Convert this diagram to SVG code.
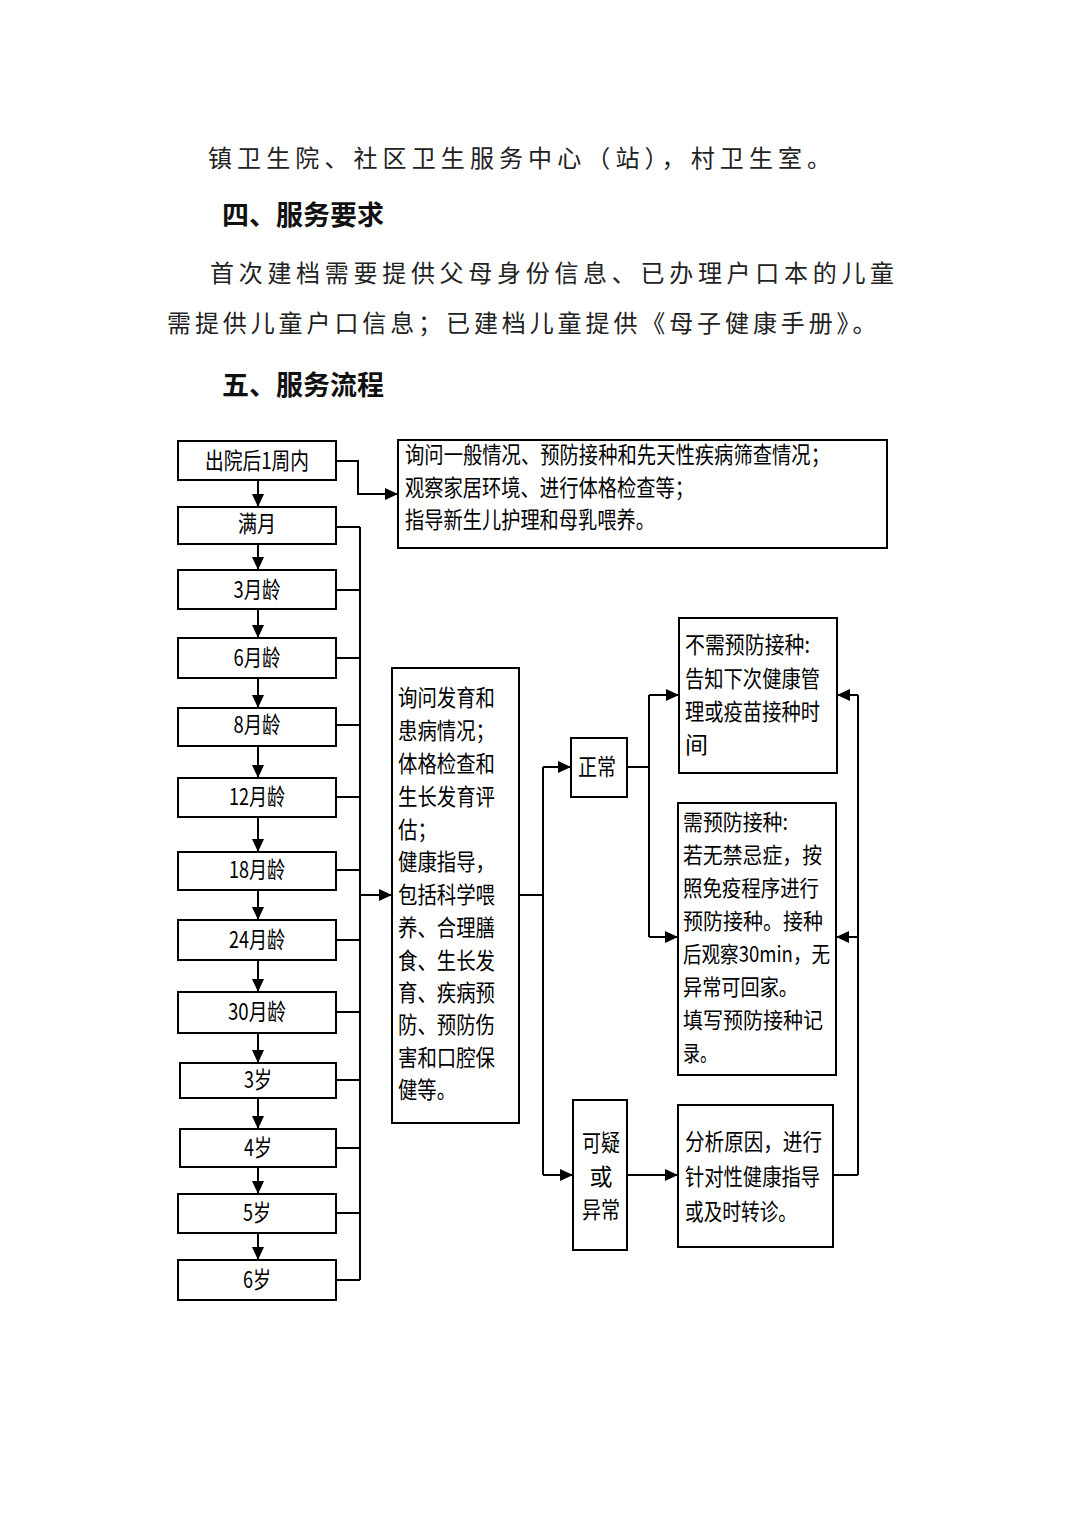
<svg xmlns="http://www.w3.org/2000/svg" width="1074" height="1520" viewBox="0 0 1074 1520">
<style>
.para{font-family:"Noto Sans CJK SC","Noto Sans",sans-serif;font-size:24px;fill:#222;}
.head{font-family:"Noto Sans CJK SC","Noto Sans",sans-serif;font-size:27px;font-weight:bold;fill:#111;}
.t{font-family:"Noto Sans CJK SC","Noto Sans",sans-serif;font-size:23px;fill:#000;}
.s{font-size:22px;}
.c{text-anchor:middle;}
.box{fill:#fff;stroke:#000;stroke-width:2;}
.ln{fill:none;stroke:#000;stroke-width:2;}
</style>
<defs>
<marker id="ah" markerWidth="13" markerHeight="12" refX="13" refY="6" orient="auto" markerUnits="userSpaceOnUse">
<path d="M0,0 L13,6 L0,12 z" fill="#000"/>
</marker>
</defs>
<rect width="1074" height="1520" fill="#fff"/>

<g id="paragraphs">
<text class="para" x="208" y="167" letter-spacing="5.1">镇卫生院、社区卫生服务中心（站），村卫生室。</text>
<text class="head" x="222" y="225">四、服务要求</text>
<text class="para" x="210" y="282" letter-spacing="4.7">首次建档需要提供父母身份信息、已办理户口本的儿童</text>
<text class="para" x="167" y="332" letter-spacing="3.9">需提供儿童户口信息；已建档儿童提供《母子健康手册》。</text>
<text class="head" x="222" y="395">五、服务流程</text>
</g>

<g id="connectors">
<line class="ln" x1="258" y1="480" x2="258" y2="507" marker-end="url(#ah)"/>
<line class="ln" x1="258" y1="544" x2="258" y2="570" marker-end="url(#ah)"/>
<line class="ln" x1="258" y1="609" x2="258" y2="638" marker-end="url(#ah)"/>
<line class="ln" x1="258" y1="678" x2="258" y2="708" marker-end="url(#ah)"/>
<line class="ln" x1="258" y1="746" x2="258" y2="778" marker-end="url(#ah)"/>
<line class="ln" x1="258" y1="817" x2="258" y2="852" marker-end="url(#ah)"/>
<line class="ln" x1="258" y1="890" x2="258" y2="920" marker-end="url(#ah)"/>
<line class="ln" x1="258" y1="960" x2="258" y2="992" marker-end="url(#ah)"/>
<line class="ln" x1="258" y1="1033" x2="258" y2="1063" marker-end="url(#ah)"/>
<line class="ln" x1="258" y1="1098" x2="258" y2="1129" marker-end="url(#ah)"/>
<line class="ln" x1="258" y1="1167" x2="258" y2="1194" marker-end="url(#ah)"/>
<line class="ln" x1="258" y1="1233" x2="258" y2="1260" marker-end="url(#ah)"/>
<polyline class="ln" points="336,461 358,461 358,494 398,494" marker-end="url(#ah)"/>
<line class="ln" x1="360" y1="527" x2="360" y2="1280"/>
<line class="ln" x1="336" y1="527" x2="360" y2="527"/>
<line class="ln" x1="336" y1="590" x2="360" y2="590"/>
<line class="ln" x1="336" y1="658" x2="360" y2="658"/>
<line class="ln" x1="336" y1="725" x2="360" y2="725"/>
<line class="ln" x1="336" y1="797" x2="360" y2="797"/>
<line class="ln" x1="336" y1="870" x2="360" y2="870"/>
<line class="ln" x1="336" y1="940" x2="360" y2="940"/>
<line class="ln" x1="336" y1="1012" x2="360" y2="1012"/>
<line class="ln" x1="336" y1="1080" x2="360" y2="1080"/>
<line class="ln" x1="336" y1="1148" x2="360" y2="1148"/>
<line class="ln" x1="336" y1="1213" x2="360" y2="1213"/>
<line class="ln" x1="336" y1="1280" x2="360" y2="1280"/>
<line class="ln" x1="360" y1="895" x2="392" y2="895" marker-end="url(#ah)"/>
<line class="ln" x1="519" y1="895" x2="543" y2="895"/>
<line class="ln" x1="543" y1="767" x2="543" y2="1175"/>
<line class="ln" x1="543" y1="767" x2="571" y2="767" marker-end="url(#ah)"/>
<line class="ln" x1="543" y1="1175" x2="573" y2="1175" marker-end="url(#ah)"/>
<line class="ln" x1="627" y1="767" x2="649" y2="767"/>
<line class="ln" x1="649" y1="695" x2="649" y2="937"/>
<line class="ln" x1="649" y1="695" x2="679" y2="695" marker-end="url(#ah)"/>
<line class="ln" x1="649" y1="937" x2="678" y2="937" marker-end="url(#ah)"/>
<line class="ln" x1="627" y1="1175" x2="678" y2="1175" marker-end="url(#ah)"/>
<line class="ln" x1="833" y1="1175" x2="858" y2="1175"/>
<line class="ln" x1="858" y1="695" x2="858" y2="1175"/>
<line class="ln" x1="858" y1="695" x2="837" y2="695" marker-end="url(#ah)"/>
<line class="ln" x1="858" y1="937" x2="836" y2="937" marker-end="url(#ah)"/>
</g>

<g id="n1"><rect class="box" x="178" y="441" width="158" height="39"/><text class="t c" x="257" y="469" textLength="104" lengthAdjust="spacingAndGlyphs">出院后1周内</text></g>
<g id="n2"><rect class="box" x="178" y="507" width="158" height="37"/><text class="t c" x="257" y="532" textLength="38" lengthAdjust="spacingAndGlyphs">满月</text></g>
<g id="n3"><rect class="box" x="178" y="570" width="158" height="39"/><text class="t c" x="257" y="598" textLength="47" lengthAdjust="spacingAndGlyphs">3月龄</text></g>
<g id="n4"><rect class="box" x="178" y="638" width="158" height="40"/><text class="t c" x="257" y="666" textLength="47" lengthAdjust="spacingAndGlyphs">6月龄</text></g>
<g id="n5"><rect class="box" x="178" y="708" width="158" height="38"/><text class="t c" x="257" y="733" textLength="47" lengthAdjust="spacingAndGlyphs">8月龄</text></g>
<g id="n6"><rect class="box" x="178" y="778" width="158" height="39"/><text class="t c" x="257" y="805" textLength="56" lengthAdjust="spacingAndGlyphs">12月龄</text></g>
<g id="n7"><rect class="box" x="178" y="852" width="158" height="38"/><text class="t c" x="257" y="878" textLength="56" lengthAdjust="spacingAndGlyphs">18月龄</text></g>
<g id="n8"><rect class="box" x="178" y="920" width="158" height="40"/><text class="t c" x="257" y="948" textLength="56" lengthAdjust="spacingAndGlyphs">24月龄</text></g>
<g id="n9"><rect class="box" x="178" y="992" width="158" height="41"/><text class="t c" x="257" y="1020" textLength="58" lengthAdjust="spacingAndGlyphs">30月龄</text></g>
<g id="n10"><rect class="box" x="180" y="1063" width="156" height="35"/><text class="t c" x="258" y="1088" textLength="28" lengthAdjust="spacingAndGlyphs">3岁</text></g>
<g id="n11"><rect class="box" x="180" y="1129" width="156" height="38"/><text class="t c" x="258" y="1156" textLength="28" lengthAdjust="spacingAndGlyphs">4岁</text></g>
<g id="n12"><rect class="box" x="178" y="1194" width="158" height="39"/><text class="t c" x="257" y="1221" textLength="28" lengthAdjust="spacingAndGlyphs">5岁</text></g>
<g id="n13"><rect class="box" x="178" y="1260" width="158" height="40"/><text class="t c" x="257" y="1288" textLength="28" lengthAdjust="spacingAndGlyphs">6岁</text></g>

<g id="first-visit">
<rect class="box" x="398" y="440" width="489" height="108"/>
<text class="t" x="405" y="463" textLength="425" lengthAdjust="spacingAndGlyphs">询问一般情况、预防接种和先天性疾病筛查情况；</text>
<text class="t" x="405" y="496" textLength="289" lengthAdjust="spacingAndGlyphs">观察家居环境、进行体格检查等；</text>
<text class="t" x="405" y="528" textLength="250" lengthAdjust="spacingAndGlyphs">指导新生儿护理和母乳喂养。</text>
</g>

<g id="follow-up">
<rect class="box" x="392" y="668" width="127" height="455"/>
<text class="t" x="398" y="706" textLength="97" lengthAdjust="spacingAndGlyphs">询问发育和</text>
<text class="t" x="398" y="739" textLength="97" lengthAdjust="spacingAndGlyphs">患病情况；</text>
<text class="t" x="398" y="772" textLength="97" lengthAdjust="spacingAndGlyphs">体格检查和</text>
<text class="t" x="398" y="805" textLength="97" lengthAdjust="spacingAndGlyphs">生长发育评</text>
<text class="t" x="398" y="838" textLength="39" lengthAdjust="spacingAndGlyphs">估；</text>
<text class="t" x="398" y="870" textLength="97" lengthAdjust="spacingAndGlyphs">健康指导，</text>
<text class="t" x="398" y="903" textLength="97" lengthAdjust="spacingAndGlyphs">包括科学喂</text>
<text class="t" x="398" y="936" textLength="97" lengthAdjust="spacingAndGlyphs">养、合理膳</text>
<text class="t" x="398" y="969" textLength="97" lengthAdjust="spacingAndGlyphs">食、生长发</text>
<text class="t" x="398" y="1001" textLength="97" lengthAdjust="spacingAndGlyphs">育、疾病预</text>
<text class="t" x="398" y="1033" textLength="97" lengthAdjust="spacingAndGlyphs">防、预防伤</text>
<text class="t" x="398" y="1066" textLength="97" lengthAdjust="spacingAndGlyphs">害和口腔保</text>
<text class="t" x="398" y="1098" textLength="58" lengthAdjust="spacingAndGlyphs">健等。</text>
</g>

<g id="normal">
<rect class="box" x="571" y="738" width="56" height="59"/>
<text class="t c" x="597" y="775" textLength="38" lengthAdjust="spacingAndGlyphs">正常</text>
</g>

<g id="abnormal">
<rect class="box" x="573" y="1100" width="54" height="150"/>
<text class="t c" x="601" y="1151" textLength="38" lengthAdjust="spacingAndGlyphs">可疑</text>
<text class="t c" x="601" y="1185">或</text>
<text class="t c" x="601" y="1218" textLength="38" lengthAdjust="spacingAndGlyphs">异常</text>
</g>

<g id="no-vaccine">
<rect class="box" x="679" y="618" width="158" height="155"/>
<text class="t" x="685" y="653" textLength="125" lengthAdjust="spacingAndGlyphs">不需预防接种:</text>
<text class="t" x="685" y="687" textLength="135" lengthAdjust="spacingAndGlyphs">告知下次健康管</text>
<text class="t" x="685" y="720" textLength="135" lengthAdjust="spacingAndGlyphs">理或疫苗接种时</text>
<text class="t" x="685" y="753">间</text>
</g>

<g id="vaccine">
<rect class="box" x="678" y="803" width="158" height="272"/>
<text class="t s" x="683" y="830" textLength="105" lengthAdjust="spacingAndGlyphs">需预防接种:</text>
<text class="t s" x="683" y="863" textLength="139" lengthAdjust="spacingAndGlyphs">若无禁忌症，按</text>
<text class="t s" x="683" y="896" textLength="136" lengthAdjust="spacingAndGlyphs">照免疫程序进行</text>
<text class="t s" x="683" y="929" textLength="140" lengthAdjust="spacingAndGlyphs">预防接种。接种</text>
<text class="t s" x="683" y="962" textLength="147" lengthAdjust="spacingAndGlyphs">后观察30min，无</text>
<text class="t s" x="683" y="995" textLength="115" lengthAdjust="spacingAndGlyphs">异常可回家。</text>
<text class="t s" x="683" y="1028" textLength="140" lengthAdjust="spacingAndGlyphs">填写预防接种记</text>
<text class="t s" x="683" y="1061" textLength="34" lengthAdjust="spacingAndGlyphs">录。</text>
</g>

<g id="analysis">
<rect class="box" x="678" y="1105" width="155" height="142"/>
<text class="t" x="685" y="1150" textLength="137" lengthAdjust="spacingAndGlyphs">分析原因，进行</text>
<text class="t" x="685" y="1185" textLength="135" lengthAdjust="spacingAndGlyphs">针对性健康指导</text>
<text class="t" x="685" y="1220" textLength="112" lengthAdjust="spacingAndGlyphs">或及时转诊。</text>
</g>
</svg>
